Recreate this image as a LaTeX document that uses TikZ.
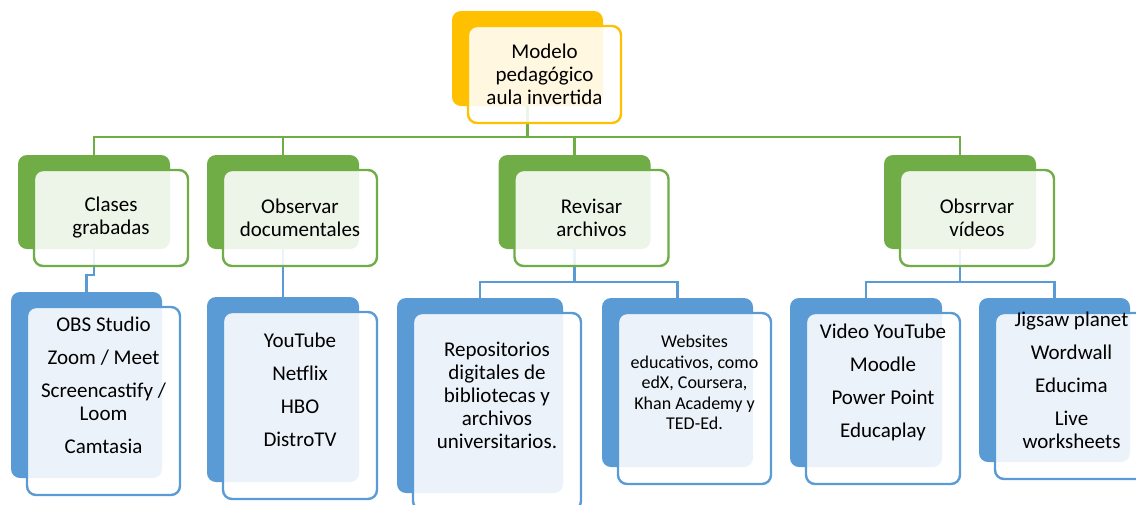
\documentclass[tikz,border=0pt]{standalone}
\usepackage{fontspec}
\setmainfont{Carlito}
\definecolor{topyellow}{HTML}{FFC000}
\definecolor{levelgreen}{HTML}{70AD47}
\definecolor{levelblue}{HTML}{5B9BD5}

\begin{document}
\begin{tikzpicture}[x=1pt, y=-1pt,
    backbox/.style={shape=rectangle, rounded corners=9pt, inner sep=0pt},
    frontbox/.style={shape=rectangle, draw, rounded corners=9pt, line width=2.4pt, fill=white, fill opacity=0.88, text opacity=1, align=center, inner sep=0pt, font=\fontsize{21}{23}\selectfont},
    itemtext/.style={align=center, inner sep=0pt, font=\fontsize{21}{23}\selectfont},
    greenline/.style={draw=levelgreen, line width=2.4pt},
    blueline/.style={draw=levelblue, line width=2.4pt}]
    \path[use as bounding box, clip] (0,0) rectangle (1136,504);
    % back boxes
    \node[backbox, fill=topyellow, minimum width=151, minimum height=95] (topB) at (527.5,58.5) {};
    \begin{scope}[every node/.style={backbox, fill=levelgreen, minimum width=152, minimum height=94}]
        \node (clasesB) at (94,202) {};
        \node (observarB) at (283,202) {};
        \node (revisarB) at (574.5,202) {};
        \node (videosB) at (960,202) {};
    \end{scope}
    \begin{scope}[every node/.style={backbox, fill=levelblue}]
        \node[minimum width=151, minimum height=186] (obsB) at (86.5,385) {};
        \node[minimum width=152, minimum height=185] (youtubeB) at (283,389.5) {};
        \node[minimum width=166, minimum height=195] (reposB) at (480,395.5) {};
        \node[minimum width=151, minimum height=169] (websitesB) at (677.5,382.5) {};
        \node[minimum width=152, minimum height=169] (videoB) at (866,382.5) {};
        \node[minimum width=151, minimum height=164] (jigsawB) at (1054.5,380) {};
    \end{scope}
    % connectors
    \coordinate (greenbus) at (527.5,137);
    \foreach \child in {clasesB, observarB, revisarB, videosB}
        \draw[greenline] (topB.south) -- (greenbus) -| (\child.north);
    \coordinate (clasesbus) at (94,275);
    \draw[blueline] (clasesB.south) -- (clasesbus) -| (obsB.north);
    \draw[blueline] (observarB.south) -- (youtubeB.north);
    \coordinate (revisarbus) at (574.5,282);
    \foreach \child in {reposB, websitesB}
        \draw[blueline] (revisarB.south) -- (revisarbus) -| (\child.north);
    \coordinate (videosbus) at (960,282);
    \foreach \child in {videoB, jigsawB}
        \draw[blueline] (videosB.south) -- (videosbus) -| (\child.north);
    % front boxes
    \node[frontbox, draw=topyellow, minimum width=153, minimum height=97] (top) at ([shift={(17,16)}]topB.center) {Modelo\\pedagógico\\aula invertida};
    \begin{scope}[every node/.style={frontbox, draw=levelgreen, minimum width=154, minimum height=96}]
        \node (clases) at ([shift={(17,16)}]clasesB.center) {Clases\\grabadas};
        \node (observar) at ([shift={(17,16)}]observarB.center) {Observar\\documentales};
        \node (revisar) at ([shift={(17,16)}]revisarB.center) {Revisar\\archivos};
        \node (videos) at ([shift={(17,16)}]videosB.center) {Obsrrvar\\vídeos};
    \end{scope}
    \begin{scope}[every node/.style={frontbox, draw=levelblue}]
        \node[minimum width=153, minimum height=188] (obs) at ([shift={(17,16)}]obsB.center) {};
        \node[minimum width=154, minimum height=187] (youtube) at ([shift={(17,16)}]youtubeB.center) {};
        \node[minimum width=168, minimum height=197] (repos) at ([shift={(17,16)}]reposB.center) {};
        \node[minimum width=153, minimum height=171] (websites) at ([shift={(17,16)}]websitesB.center) {};
        \node[minimum width=154, minimum height=171] (video) at ([shift={(17,16)}]videoB.center) {};
        \node[minimum width=153, minimum height=166] (jigsaw) at ([shift={(17,16)}]jigsawB.center) {};
    \end{scope}
    % texts of the tools
    \node[itemtext] (obsT) at (obs.center |- obsB.center) {OBS Studio\\[10pt]Zoom / Meet\\[10pt]Screencastify /\\Loom\\[10pt]Camtasia};
    \node[itemtext] (youtubeT) at (youtube.center |- youtubeB.center) {YouTube\\[10pt]Netflix\\[10pt]HBO\\[10pt]DistroTV};
    \node[itemtext] (reposT) at (repos.center |- reposB.center) {Repositorios\\digitales de\\bibliotecas y\\archivos\\universitarios.};
    \node[itemtext, font=\fontsize{18}{20.5}\selectfont] (websitesT) at (websites.center |- websitesB.center) {Websites\\educativos, como\\edX, Coursera,\\Khan Academy y\\TED-Ed.};
    \node[itemtext] (videoT) at (video.center |- videoB.center) {Video YouTube\\[10pt]Moodle\\[10pt]Power Point\\[10pt]Educaplay};
    \node[itemtext] (jigsawT) at (jigsaw.center |- jigsawB.center) {Jigsaw planet\\[10pt]Wordwall\\[10pt]Educima\\[10pt]Live\\worksheets};
\end{tikzpicture}
\end{document}
